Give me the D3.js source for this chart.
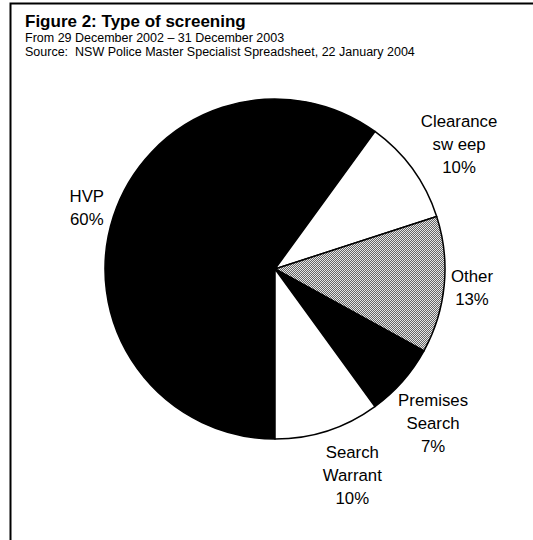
<!DOCTYPE html>
<html>
<head>
<meta charset="utf-8">
<script src="https://cdn.jsdelivr.net/npm/d3@7"></script>
<style>
  body { margin: 0; background: #fff; }
  svg { display: block; font-family: "Liberation Sans", Arial, sans-serif; }
</style>
</head>
<body>
<svg id="chart"></svg>
<script>
// data
var categories = ["HVP", "Clearance sweep", "Other", "Premises Search", "Search Warrant"];
var labelLines = [["HVP"], ["Clearance", "sw eep"], ["Other"], ["Premises", "Search"], ["Search", "Warrant"]];
var values = [60, 10, 13, 7, 10];
var sliceFills = ["#000", "#fff", "url(#hatch)", "#000", "#fff"];

var titleText = "Figure 2: Type of screening";
var subtitleLines = ["From 29 December 2002 \u2013 31 December 2003",
    "Source:  NSW Police Master Specialist Spreadsheet, 22 January 2004"];

// small hand nudges for label placement (layout only)
var labelNudge = [[0, 0], [2, 8], [0, 0], [-9, 7], [11, 2]];

(function pieChart() {
    var W = 533, H = 540;
    var svg = d3.select("#chart").attr("width", W).attr("height", H);

    var cx = 275, cy = 269, radius = 170, labelGap = 5;

    // fine dither for "Other"
    var pat = svg.append("defs").append("pattern")
        .attr("id", "hatch")
        .attr("patternUnits", "userSpaceOnUse")
        .attr("width", 2).attr("height", 2);
    pat.append("rect").attr("width", 2).attr("height", 2).attr("fill", "#e6e6e6");
    pat.selectAll("rect.px").data([[0, 1], [1, 0]]).enter().append("rect")
        .attr("class", "px")
        .attr("x", function (d) { return d[0]; })
        .attr("y", function (d) { return d[1]; })
        .attr("width", 1).attr("height", 1)
        .attr("fill", "#666")
        .attr("shape-rendering", "crispEdges");

    // frame (left + top rules only)
    svg.append("path")
        .attr("d", "M10.5," + H + " V3.5 H" + W)
        .attr("fill", "none").attr("stroke", "#000").attr("stroke-width", 2);

    // heading
    svg.append("text")
        .attr("x", 25).attr("y", 27)
        .attr("font-size", "17px").attr("font-weight", "bold")
        .text(titleText);
    svg.selectAll(".sub").data(subtitleLines).enter().append("text")
        .attr("class", "sub")
        .attr("x", 25)
        .attr("y", function (d, i) { return 42 + i * 14; })
        .attr("font-size", "12.5px")
        .style("white-space", "pre")
        .text(function (d) { return d; });

    var total = d3.sum(values);
    var pct = d3.format(".0%");

    var pie = d3.pie().sort(null).value(function (d) { return d; })
        .startAngle(Math.PI).endAngle(3 * Math.PI);
    var arcs = pie(values);
    var arc = d3.arc().innerRadius(0).outerRadius(radius);

    var g = svg.append("g").attr("transform", "translate(" + cx + "," + cy + ")");

    g.selectAll("path.slice").data(arcs).enter().append("path")
        .attr("class", "slice")
        .attr("d", arc)
        .attr("fill", function (d, i) { return sliceFills[i]; })
        .attr("stroke", "#000")
        .attr("stroke-width", 1.5)
        .attr("stroke-linejoin", "round");

    // labels placed outside, along each slice's mid angle
    var labels = g.selectAll("g.lab").data(arcs).enter().append("g").attr("class", "lab");
    labels.each(function (d, i) {
        var t = d3.select(this).append("text")
            .attr("text-anchor", "middle")
            .attr("font-size", "16.8px")
            .attr("fill", "#000");
        var lines = labelLines[i].concat([pct(values[i] / total)]);
        t.selectAll("tspan").data(lines).enter().append("tspan")
            .attr("x", 0)
            .attr("dy", function (l, j) { return j === 0 ? 0 : 23; })
            .text(function (l) { return l; });
        var bb = this.getBBox();
        var a = (d.startAngle + d.endAngle) / 2;
        var dx = Math.sin(a), dy = -Math.cos(a);
        var ext = Math.abs(dx) * bb.width / 2 + Math.abs(dy) * bb.height / 2;
        var dist = radius + labelGap + ext;
        var px = dx * dist - (bb.x + bb.width / 2) + labelNudge[i][0];
        var py = dy * dist - (bb.y + bb.height / 2) + labelNudge[i][1];
        d3.select(this).attr("transform", "translate(" + px + "," + py + ")");
    });
}());
</script>
</body>
</html>
